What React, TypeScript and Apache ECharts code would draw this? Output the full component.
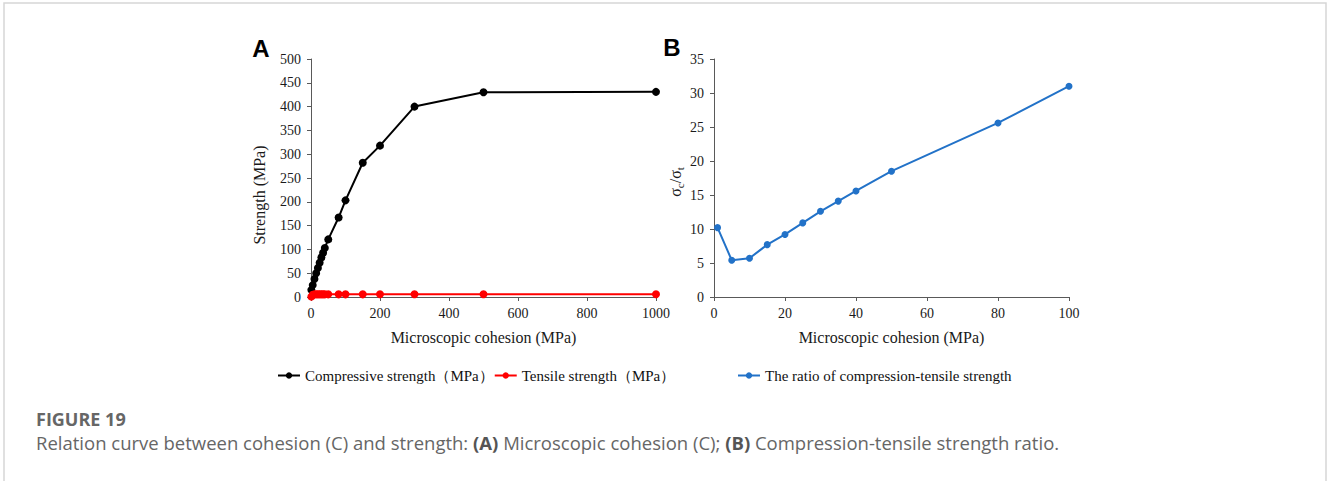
import React, { useEffect, useRef } from "react";
import * as echarts from "echarts";

const cohesionA = [1, 5, 10, 15, 20, 25, 30, 35, 40, 50, 80, 100, 150, 200, 300, 500, 1000];
const compressive = [15, 25, 38, 50, 61, 72, 83, 93, 103, 121, 167, 203, 282, 318, 400, 430, 431];
const tensile = [0.8, 4.6, 5.5, 5.6, 5.6, 5.6, 5.6, 5.6, 5.6, 5.6, 5.6, 5.6, 5.6, 5.7, 5.7, 5.7, 5.7];

const cohesionB = [1, 5, 10, 15, 20, 25, 30, 35, 40, 50, 80, 100];
const ratio = [10.2, 5.4, 5.7, 7.7, 9.2, 10.9, 12.6, 14.1, 15.6, 18.5, 25.6, 31.0];

const xTicksA = { min: 0, max: 1000, interval: 200 };
const yTicksA = { min: 0, max: 500, interval: 50 };
const xTicksB = { min: 0, max: 100, interval: 20 };
const yTicksB = { min: 0, max: 35, interval: 5 };

const NAME_COMP = "Compressive strength（MPa）";
const NAME_TENS = "Tensile strength（MPa）";
const NAME_RATIO = "The ratio of compression-tensile strength";

const SERIF = "'Liberation Serif', 'Times New Roman', serif";
const SANS = "'Open Sans', 'Noto Sans', sans-serif";

const axisCommon = {
  type: "value" as const,
  axisLine: { show: true, lineStyle: { color: "#595959", width: 1 } },
  axisTick: { show: true, inside: false, length: 4, lineStyle: { color: "#595959", width: 1 } },
  splitLine: { show: false },
  axisLabel: { color: "#1a1a1a", fontFamily: SERIF, fontSize: 14, margin: 9, formatter: (v: number) => String(v) },
};

export default function App() {
  const ref = useRef<HTMLDivElement>(null);
  useEffect(() => {
    if (!ref.current) return;
    const chart = echarts.init(ref.current, undefined, { renderer: "svg" });
    const xName = {
      nameLocation: "middle" as const,
      nameGap: 32,
      nameTextStyle: { fontFamily: SERIF, fontSize: 16, color: "#1a1a1a" },
    };
    const legendText = { fontFamily: SERIF, fontSize: 15, color: "#111" };
    chart.setOption({
      animation: false,
      backgroundColor: "#fff",
      grid: [
        { left: 311, top: 59, width: 345, height: 238 },
        { left: 714, top: 59, width: 355, height: 238 },
      ],
      xAxis: [
        { ...axisCommon, ...xTicksA, gridIndex: 0, name: "Microscopic cohesion (MPa)", ...xName },
        { ...axisCommon, ...xTicksB, gridIndex: 1, name: "Microscopic cohesion (MPa)", ...xName },
      ],
      yAxis: [
        { ...axisCommon, ...yTicksA, gridIndex: 0, axisLabel: { ...axisCommon.axisLabel, margin: 10 } },
        { ...axisCommon, ...yTicksB, gridIndex: 1, axisLabel: { ...axisCommon.axisLabel, margin: 10 } },
      ],
      legend: [
        {
          data: [NAME_COMP, NAME_TENS],
          left: 277,
          top: 368,
          padding: 0,
          itemWidth: 22,
          itemHeight: 8,
          itemGap: 0,
          textStyle: legendText,
        },
        {
          data: [NAME_RATIO],
          left: 737,
          top: 368,
          padding: 0,
          itemWidth: 22,
          itemHeight: 8,
          textStyle: legendText,
        },
      ],
      series: [
        {
          type: "line",
          name: NAME_COMP,
          xAxisIndex: 0,
          yAxisIndex: 0,
          data: cohesionA.map((x, i) => [x, compressive[i]]),
          symbol: "circle",
          symbolSize: 8,
          lineStyle: { color: "#000", width: 2 },
          itemStyle: { color: "#000" },
        },
        {
          type: "line",
          name: NAME_TENS,
          xAxisIndex: 0,
          yAxisIndex: 0,
          data: cohesionA.map((x, i) => [x, tensile[i]]),
          symbol: "circle",
          symbolSize: 8,
          lineStyle: { color: "#ff0000", width: 2 },
          itemStyle: { color: "#ff0000" },
        },
        {
          type: "line",
          name: NAME_RATIO,
          xAxisIndex: 1,
          yAxisIndex: 1,
          data: cohesionB.map((x, i) => [x, ratio[i]]),
          symbol: "circle",
          symbolSize: 7,
          lineStyle: { color: "#2272c8", width: 2 },
          itemStyle: { color: "#2272c8" },
        },
      ],
      graphic: [
        {
          type: "rect",
          silent: true,
          z: -10,
          shape: { x: 4, y: 3, width: 1322, height: 520 },
          style: { fill: "none", stroke: "#d6d6d6", lineWidth: 1.5 },
        },
        {
          type: "text",
          x: 261,
          y: 48,
          style: { text: "A", fontFamily: "'Liberation Sans', Arial, sans-serif", fontWeight: "bold", fontSize: 24, fill: "#000", align: "center", verticalAlign: "middle" },
        },
        {
          type: "text",
          x: 672,
          y: 47,
          style: { text: "B", fontFamily: "'Liberation Sans', Arial, sans-serif", fontWeight: "bold", fontSize: 24, fill: "#000", align: "center", verticalAlign: "middle" },
        },
        {
          type: "text",
          x: 259,
          y: 195,
          rotation: Math.PI / 2,
          style: { text: "Strength (MPa)", fontFamily: SERIF, fontSize: 16, fill: "#1a1a1a", align: "center", verticalAlign: "middle" },
        },
        {
          type: "text",
          x: 675,
          y: 182,
          rotation: Math.PI / 2,
          style: {
            text: "{a|σ}{b|c}{a|/σ}{b|t}",
            align: "center",
            verticalAlign: "middle",
            fill: "#1a1a1a",
            rich: {
              a: { fontFamily: SERIF, fontSize: 16, lineHeight: 20, fill: "#1a1a1a" },
              b: { fontFamily: SERIF, fontSize: 11, lineHeight: 12, verticalAlign: "bottom", fill: "#1a1a1a" },
            },
          },
        },
        {
          type: "text",
          x: 36,
          y: 419,
          style: { text: "FIGURE 19", fontFamily: SANS, fontWeight: "bold", fontSize: 18, lineHeight: 18, fill: "#666", verticalAlign: "middle" },
        },
        {
          type: "text",
          x: 36,
          y: 442,
          style: {
            text: "Relation curve between cohesion (C) and strength: {b|(A)} Microscopic cohesion (C); {b|(B)} Compression-tensile strength ratio.",
            fontFamily: SANS,
            fontSize: 18.5,
            lineHeight: 19,
            fill: "#666",
            verticalAlign: "middle",
            rich: {
              b: { fontFamily: SANS, fontSize: 18.5, lineHeight: 19, fontWeight: "bold", fill: "#555" },
            },
          },
        },
      ],
    });
    return () => chart.dispose();
  }, []);
  return <div ref={ref} style={{ position: "absolute", left: 0, top: 0, width: 1328, height: 481 }} />;
}
